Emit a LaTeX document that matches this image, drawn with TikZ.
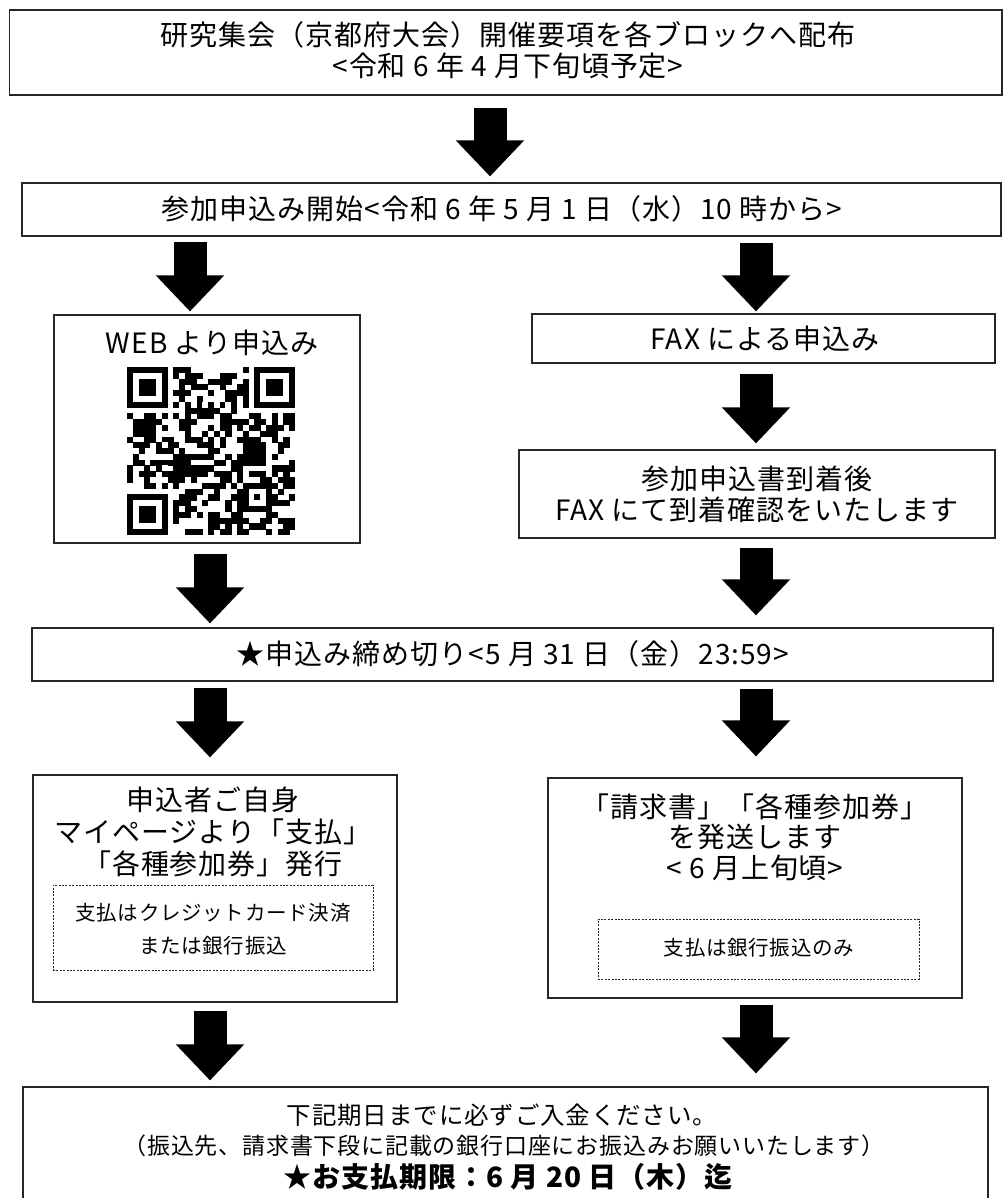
\documentclass[tikz,border=0pt]{standalone}
\usepackage{fontspec}
\setmainfont{Noto Sans CJK JP}[LetterSpace=3.5]
\usetikzlibrary{arrows.meta}
\newcommand\fbig{\fontsize{28}{31}\selectfont}
\newcommand\fsml{\fontsize{20.5}{33}\selectfont}
\begin{document}
\begin{tikzpicture}[x=1pt,y=-1pt,
  box/.style={draw=black!85, line width=1.1pt, inner sep=0pt, fill=white},
  dbox/.style={draw=black!85, line width=0.75pt, dash pattern=on 2pt off 1.4pt, inner sep=0pt},
  txt/.style={inner sep=0pt, align=center, text=black},
  bigarrow/.style={line width=33pt, -{Triangle[width=66pt,length=36pt]}, draw=black}
]
\useasboundingbox (0,0) rectangle (1003,1198);
\fill[white] (0,0) rectangle (1003,1198);

% column coordinates for the arrows
\coordinate (colA) at (490,0);
\coordinate (colL1) at (190,0);
\coordinate (colL) at (210,0);
\coordinate (colR) at (756,0);

% boxes
\node[box, minimum width=992.5pt, minimum height=85pt] (b1) at (505.75,52.5) {};
\node[box, minimum width=979pt, minimum height=53pt] (b2) at (511.5,209.5) {};
\node[box, minimum width=306pt, minimum height=228pt] (web) at (207,429) {};
\node[box, minimum width=463pt, minimum height=49pt] (fax) at (763.5,338.5) {};
\node[box, minimum width=476pt, minimum height=88pt] (fax2) at (757,494) {};
\node[box, minimum width=961pt, minimum height=53pt] (dl) at (512.5,654.5) {};
\node[box, minimum width=364pt, minimum height=227pt] (L) at (215,888.5) {};
\node[dbox, minimum width=320pt, minimum height=85pt] (Ld) at (213,927.5) {};
\node[box, minimum width=414pt, minimum height=220pt] (R) at (755,888) {};
\node[dbox, minimum width=321pt, minimum height=60pt] (Rd) at (758.5,949) {};
\node[box, minimum width=965pt, minimum height=112pt] (bot) at (505.5,1143) {};

% texts
\node[txt, font=\fbig] (t1) at (508,50.5) {研究集会（京都府大会）開催要項を各ブロックへ配布\\<令和 6 年 4 月下旬頃予定>};
\node[txt, font=\fbig] (t2) at (502,209) {参加申込み開始<令和 6 年 5 月 1 日（水）10 時から>};
\node[txt, font=\fbig] (tweb) at (212,343) {WEB より申込み};
\node[txt, font=\fbig] (tfax) at (765,338.5) {FAX による申込み};
\node[txt, font=\fbig] (tfax2) at (757,494) {参加申込書到着後\\FAX にて到着確認をいたします};
\node[txt, font=\fbig] (tdl) at (513,654) {★申込み締め切り<5 月 31 日（金）23:59>};
\node[txt, font=\fontsize{28}{32}\selectfont] (tL) at (213,832) {申込者ご自身\\マイページより「支払」\\「各種参加券」発行};
\node[txt, font=\fsml] (tLd) at (213,929.5) {支払はクレジットカード決済\\または銀行振込};
\node[txt, font=\fontsize{28}{30.5}\selectfont] (tR) at (755,837) {「請求書」「各種参加券」\\を発送します\\< 6 月上旬頃>};
\node[txt, font=\fsml] (tRd) at (759,948) {支払は銀行振込のみ};
\node[txt, font=\fontsize{24.5}{31}\selectfont] (tb1) at (502,1115) {下記期日までに必ずご入金ください。};
\node[txt, font=\fontsize{23}{31}\selectfont] (tb2) at (504,1146) {（振込先、請求書下段に記載の銀行口座にお振込みお願いいたします）};
\node[txt, font=\fontsize{28}{31}\selectfont\bfseries] (tb3) at (508,1177) {★お支払期限：6 月 20 日（木）迄};

% QR code
\def\qx{127}\def\qy{367}\def\qm{5.793}
\foreach \fx/\fy in {0/0,22/0,0/22}{
  \fill[black] (\qx+\fx*\qm, \qy+\fy*\qm) rectangle ++(7*\qm,7*\qm);
  \fill[white] (\qx+\fx*\qm+\qm, \qy+\fy*\qm+\qm) rectangle ++(5*\qm,5*\qm);
  \fill[black] (\qx+\fx*\qm+2*\qm, \qy+\fy*\qm+2*\qm) rectangle ++(3*\qm,3*\qm);
}
\fill[black] (\qx+20*\qm, \qy+20*\qm) rectangle ++(5*\qm,5*\qm);
\fill[white] (\qx+21*\qm, \qy+21*\qm) rectangle ++(3*\qm,3*\qm);
\fill[black] (\qx+22*\qm, \qy+22*\qm) rectangle ++(\qm,\qm);
\foreach \k in {8,10,...,20}{
  \fill[black] (\qx+\k*\qm, \qy+6*\qm) rectangle ++(\qm,\qm);
  \fill[black] (\qx+6*\qm, \qy+\k*\qm) rectangle ++(\qm,\qm);
}
\pgfmathsetseed{4711}
\foreach \i in {0,...,28}{
  \foreach \j in {0,...,28}{
    \pgfmathtruncatemacro{\qskip}{((\i<8 && \j<8) || (\i>20 && \j<8) || (\i<8 && \j>20) || (\i>19 && \i<25 && \j>19 && \j<25) || \i==6 || \j==6) ? 1 : 0}
    \ifnum\qskip=0
      \pgfmathrandominteger{\qrr}{0}{1}
      \ifnum\qrr=1
        \fill[black] (\qx+\i*\qm, \qy+\j*\qm) rectangle ++(\qm+0.3,\qm+0.3);
      \fi
    \fi
  }
}

% arrows
\draw[bigarrow, shorten <=12pt, shorten >=6pt] (b1.south -| colA) -- (b2.north -| colA);
\draw[bigarrow, shorten <=5pt, shorten >=3pt] (b2.south -| colL1) -- (web.north -| colL1);
\draw[bigarrow, shorten <=6pt, shorten >=2pt] (b2.south -| colR) -- (fax.north -| colR);
\draw[bigarrow, shorten <=10pt, shorten >=6pt] (fax.south -| colR) -- (fax2.north -| colR);
\draw[bigarrow, shorten <=10pt, shorten >=4pt] (web.south -| colL) -- (dl.north -| colL);
\draw[bigarrow, shorten <=9pt, shorten >=12pt] (fax2.south -| colR) -- (dl.north -| colR);
\draw[bigarrow, shorten <=6pt, shorten >=17pt] (dl.south -| colL) -- (L.north -| colL);
\draw[bigarrow, shorten <=7pt, shorten >=21pt] (dl.south -| colR) -- (R.north -| colR);
\draw[bigarrow, shorten <=8pt, shorten >=6pt] (L.south -| colL) -- (bot.north -| colL);
\draw[bigarrow, shorten <=6pt, shorten >=13pt] (R.south -| colR) -- (bot.north -| colR);
\end{tikzpicture}
\end{document}
